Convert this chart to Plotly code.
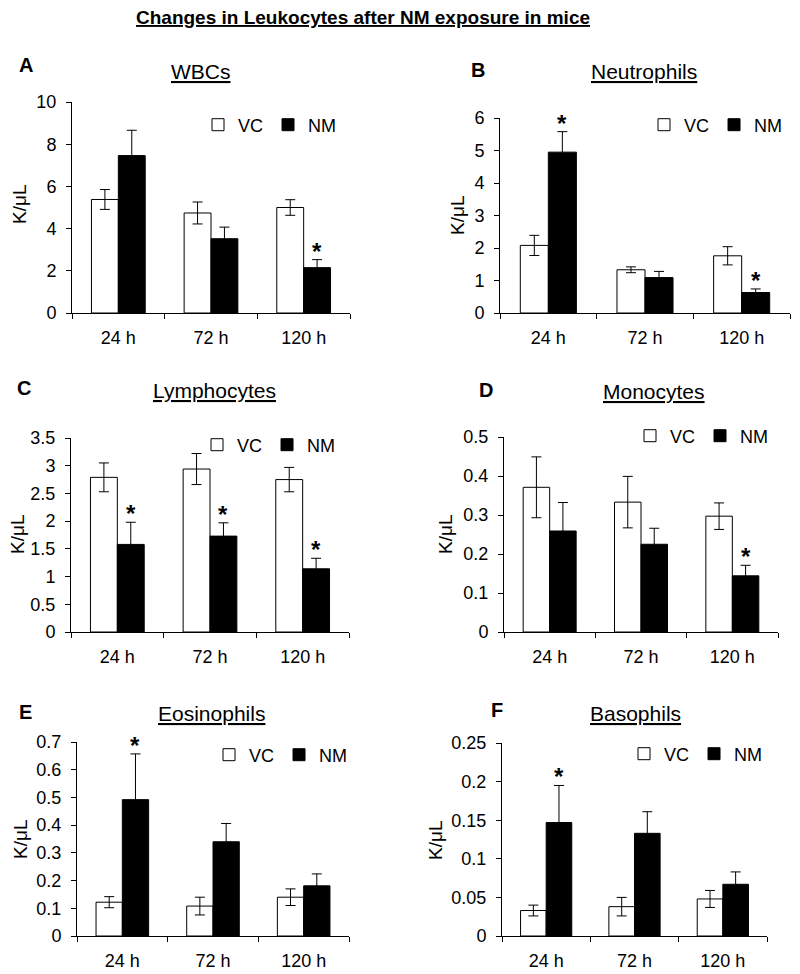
import plotly.graph_objects as go

# ---------------- data ----------------
TIMES = ["24 h", "72 h", "120 h"]
SERIES_NAMES = ["VC", "NM"]

WBC_VC = [5.38, 4.74, 5.00]
WBC_VC_ERR = [0.47, 0.52, 0.37]
WBC_NM = [7.46, 3.52, 2.15]
WBC_NM_ERR = [1.20, 0.55, 0.38]
WBC_SIG = [False, False, True]

NEU_VC = [2.08, 1.33, 1.76]
NEU_VC_ERR = [0.31, 0.09, 0.28]
NEU_NM = [4.95, 1.09, 0.63]
NEU_NM_ERR = [0.63, 0.19, 0.11]
NEU_SIG = [True, False, True]

LYM_VC = [2.79, 2.94, 2.75]
LYM_VC_ERR = [0.26, 0.28, 0.22]
LYM_NM = [1.58, 1.73, 1.14]
LYM_NM_ERR = [0.40, 0.24, 0.19]
LYM_SIG = [True, True, True]

MON_VC = [0.371, 0.333, 0.297]
MON_VC_ERR = [0.078, 0.066, 0.034]
MON_NM = [0.259, 0.225, 0.144]
MON_NM_ERR = [0.073, 0.041, 0.027]
MON_SIG = [False, False, True]

EOS_VC = [0.122, 0.108, 0.140]
EOS_VC_ERR = [0.020, 0.032, 0.030]
EOS_NM = [0.492, 0.340, 0.181]
EOS_NM_ERR = [0.165, 0.066, 0.043]
EOS_SIG = [True, False, False]

BAS_VC = [0.033, 0.038, 0.048]
BAS_VC_ERR = [0.007, 0.012, 0.011]
BAS_NM = [0.147, 0.133, 0.067]
BAS_NM_ERR = [0.048, 0.028, 0.016]
BAS_SIG = [True, False, False]

TITLES = ["WBCs", "Neutrophils", "Lymphocytes", "Monocytes", "Eosinophils", "Basophils"]
LETTERS = ["A", "B", "C", "D", "E", "F"]
Y_MAX = [10, 6, 3.5, 0.5, 0.7, 0.25]
Y_DTICK = [2, 1, 0.5, 0.1, 0.1, 0.05]
Y_UNIT = "K/μL"
MAIN_TITLE = "Changes in Leukocytes after NM exposure in mice"

DATA = [
    (WBC_VC, WBC_VC_ERR, WBC_NM, WBC_NM_ERR, WBC_SIG),
    (NEU_VC, NEU_VC_ERR, NEU_NM, NEU_NM_ERR, NEU_SIG),
    (LYM_VC, LYM_VC_ERR, LYM_NM, LYM_NM_ERR, LYM_SIG),
    (MON_VC, MON_VC_ERR, MON_NM, MON_NM_ERR, MON_SIG),
    (EOS_VC, EOS_VC_ERR, EOS_NM, EOS_NM_ERR, EOS_SIG),
    (BAS_VC, BAS_VC_ERR, BAS_NM, BAS_NM_ERR, BAS_SIG),
]

# ---------------- layout geometry (pixels) ----------------
W, H = 800, 974
# plot area: x0, x1, ytop, ybottom
PLOT_BOX = [
    (72, 350, 102, 313),
    (500, 790, 118, 313),
    (71, 349, 438, 632),
    (504, 778, 437, 632),
    (77, 349, 742, 936),
    (502, 767, 743, 936),
]
TITLE_POS = [(201, 72), (644, 72), (214, 390), (654, 392), (211, 713), (635, 713)]
LETTER_POS = [(26, 65), (478, 70), (24, 388), (486, 390), (25, 712), (497, 710)]
LEGEND_RIGHT = [(342, 125), (788, 125), (341, 445), (774, 436), (353, 755), (768, 754)]
YTITLE_POS = [(20, 205), (458, 216), (17, 535), (445, 535), (20, 840), (435, 840)]

FONT = "Liberation Sans, Arial, sans-serif"
BAR_GAP = 0.42
NM_OFFSET = (1 - BAR_GAP) / 4


def px_x(x):
    return x / W


def px_y(y):
    return 1 - y / H


fig = go.Figure()
annotations = []
layout_extra = {}

for k, (vc, vce, nm, nme, sig) in enumerate(DATA):
    n = k + 1
    xa = "x" if n == 1 else f"x{n}"
    ya = "y" if n == 1 else f"y{n}"
    lg = "legend" if n == 1 else f"legend{n}"
    fig.add_trace(go.Bar(
        x=TIMES, y=vc, name=SERIES_NAMES[0], xaxis=xa, yaxis=ya, legend=lg,
        marker=dict(color="white", line=dict(color="black", width=1)),
        error_y=dict(type="data", array=vce, color="black", thickness=1, width=5),
    ))
    fig.add_trace(go.Bar(
        x=TIMES, y=nm, name=SERIES_NAMES[1], xaxis=xa, yaxis=ya, legend=lg,
        marker=dict(color="black", line=dict(color="black", width=1)),
        error_y=dict(type="data", array=nme, color="black", thickness=1, width=5),
    ))

    x0, x1, yt, yb = PLOT_BOX[k]
    xkey = "xaxis" if n == 1 else f"xaxis{n}"
    ykey = "yaxis" if n == 1 else f"yaxis{n}"
    layout_extra[xkey] = dict(
        domain=[px_x(x0), px_x(x1)], anchor=ya, type="category",
        categoryorder="array", categoryarray=TIMES,
        tickson="boundaries", ticks="outside", ticklen=5, tickcolor="black",
        showline=True, linecolor="black", linewidth=1, showgrid=False,
        ticklabelstandoff=8, automargin=False,
        tickfont=dict(family=FONT, size=18, color="black"),
        fixedrange=True,
    )
    layout_extra[ykey] = dict(
        domain=[px_y(yb), px_y(yt)], anchor=xa, range=[0, Y_MAX[k]],
        dtick=Y_DTICK[k], tick0=0, ticks="outside", ticklen=5, tickcolor="black",
        showline=True, linecolor="black", linewidth=1, showgrid=False,
        zeroline=False, ticklabelstandoff=6, automargin=False,
        tickfont=dict(family=FONT, size=18, color="black"),
        fixedrange=True,
    )
    lx, ly = LEGEND_RIGHT[k]
    layout_extra[lg] = dict(
        x=px_x(lx), y=px_y(ly), xanchor="right", yanchor="middle",
        orientation="h", bgcolor="rgba(0,0,0,0)", itemwidth=30,
        font=dict(family=FONT, size=18, color="black"), tracegroupgap=0,
    )

    # significance stars
    for i, s in enumerate(sig):
        if s:
            annotations.append(dict(
                x=i + NM_OFFSET, y=nm[i] + nme[i], xref=xa, yref=ya,
                text="<b>*</b>", showarrow=False, yanchor="bottom", yshift=-7,
                font=dict(family=FONT, size=24, color="black"),
            ))

    tx, ty = TITLE_POS[k]
    annotations.append(dict(
        x=px_x(tx), y=px_y(ty), xref="paper", yref="paper",
        text=f"<u>{TITLES[k]}</u>", showarrow=False,
        xanchor="center", yanchor="middle",
        font=dict(family=FONT, size=21, color="black"),
    ))
    lx_, ly_ = LETTER_POS[k]
    annotations.append(dict(
        x=px_x(lx_), y=px_y(ly_), xref="paper", yref="paper",
        text=f"<b>{LETTERS[k]}</b>", showarrow=False,
        xanchor="center", yanchor="middle",
        font=dict(family=FONT, size=20, color="black"),
    ))
    yx, yy = YTITLE_POS[k]
    annotations.append(dict(
        x=px_x(yx), y=px_y(yy), xref="paper", yref="paper",
        text=Y_UNIT, showarrow=False, textangle=-90,
        xanchor="center", yanchor="middle",
        font=dict(family=FONT, size=19, color="black"),
    ))

annotations.append(dict(
    x=px_x(363), y=px_y(18), xref="paper", yref="paper",
    text=f"<b><u>{MAIN_TITLE}</u></b>", showarrow=False,
    xanchor="center", yanchor="middle",
    font=dict(family=FONT, size=19, color="black"),
))

fig.update_layout(
    width=W, height=H, margin=dict(l=0, r=0, t=0, b=0, autoexpand=False),
    paper_bgcolor="white", plot_bgcolor="white",
    barmode="group", bargap=BAR_GAP, bargroupgap=0,
    annotations=annotations, showlegend=True,
    **layout_extra,
)

fig.write_html(
    "out.html",
    config={"displayModeBar": False},
    post_script="document.body.style.margin='0';",
)
